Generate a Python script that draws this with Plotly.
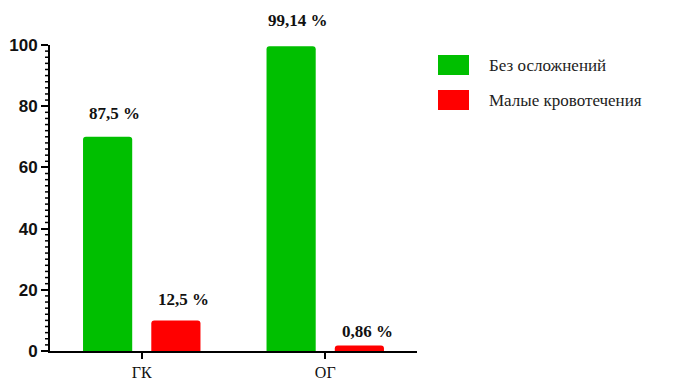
import plotly.graph_objects as go

categories = ["ГК", "ОГ"]
series_names = ["Без осложнений", "Малые кровотечения"]
green_values = [70, 99.6]
red_values = [10, 1.8]
green_labels = ["87,5 %", "99,14 %"]
red_labels = ["12,5 %", "0,86 %"]
minor_tick_values = [v for v in range(2, 100, 2) if v % 20 != 0]

GREEN = "#00BF00"
RED = "#FF0000"
W = 0.268
SERIF = "Liberation Serif, Times New Roman, serif"
PLOT_W = 367  # px width of plot area

fig = go.Figure()
fig.add_trace(go.Bar(x=[0, 1], y=green_values, width=W, offset=-0.32,
                     marker=dict(color=GREEN, line=dict(width=0)), name=series_names[0],
                     showlegend=False, cliponaxis=False))
fig.add_trace(go.Bar(x=[0, 1], y=red_values, width=W, offset=0.052,
                     marker=dict(color=RED, line=dict(width=0)), name=series_names[1],
                     showlegend=False, cliponaxis=False))

label_font = dict(family=SERIF, size=17, color="#111111", weight="bold")
green_shift = [23, 26]
red_shift = [21, 14]
for i in range(2):
    fig.add_annotation(x=i - 0.32 + W / 2, y=green_values[i], text=green_labels[i],
                       showarrow=False, font=label_font, xshift=7, yshift=green_shift[i],
                       yanchor="middle")
    fig.add_annotation(x=i + 0.052 + W / 2, y=red_values[i], text=red_labels[i],
                       showarrow=False, font=label_font, xshift=8, yshift=red_shift[i],
                       yanchor="middle")

# minor ticks on the y axis (axis decoration)
for v in minor_tick_values:
    fig.add_shape(type="line", xref="paper", yref="y", x0=-5 / PLOT_W, x1=0, y0=v, y1=v,
                  line=dict(color="black", width=1.5), layer="above")

# manual legend (paper coordinates; plot area spans x 50..417, y 45..351 px)
legend_items = [(series_names[0], GREEN, 65), (series_names[1], RED, 100)]
for name, col, yc in legend_items:
    fig.add_shape(type="rect", xref="paper", yref="paper",
                  x0=(438 - 50) / PLOT_W, x1=(469 - 50) / PLOT_W,
                  y0=(351 - (yc + 10)) / 306, y1=(351 - (yc - 10)) / 306,
                  line=dict(width=0), fillcolor=col)
    fig.add_annotation(xref="paper", yref="paper", x=(487 - 50) / PLOT_W,
                       y=(351 - yc) / 306, text=name, showarrow=False,
                       xanchor="left", yanchor="middle",
                       font=dict(family=SERIF, size=17, color="#222222"))

fig.update_layout(
    width=673, height=382,
    margin=dict(l=50, r=256, t=45, b=31),
    plot_bgcolor="white", paper_bgcolor="white",
    barcornerradius=3,
    showlegend=False,
    xaxis=dict(range=[-0.5, 1.5], tickmode="array", tickvals=[0, 1], ticktext=categories,
               showline=True, linecolor="black", linewidth=2, ticks="outside",
               ticklen=6, tickwidth=2, tickcolor="black", showgrid=False, zeroline=False,
               automargin=False,
               tickfont=dict(family=SERIF, size=16, color="#111111")),
    yaxis=dict(range=[0, 100], tickmode="linear", tick0=0, dtick=20, showline=True,
               linecolor="black", linewidth=2, ticks="outside", ticklen=7, tickwidth=2,
               tickcolor="black", showgrid=False, zeroline=False, automargin=False,
               tickfont=dict(family="Liberation Sans, Arial, sans-serif", size=17,
                             color="#111111", weight="bold")),
)
fig.write_html("out.html")
